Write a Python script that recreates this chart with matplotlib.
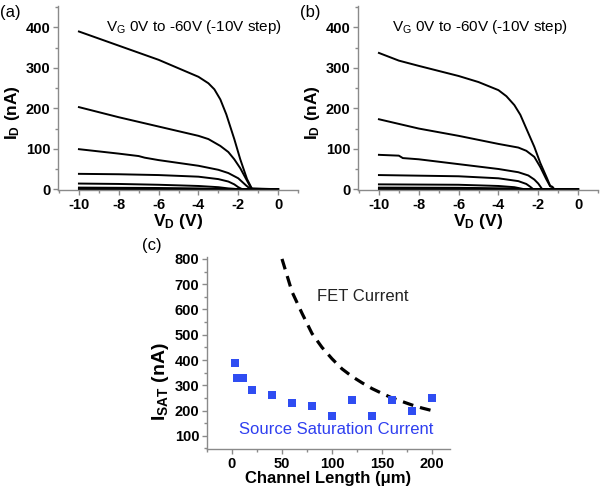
import matplotlib
matplotlib.use("Agg")
import matplotlib.pyplot as plt
from matplotlib.ticker import MultipleLocator

plt.rcParams['font.family'] = ['Liberation Sans', 'DejaVu Sans']
plt.rcParams['mathtext.default'] = 'regular'
plt.rcParams['axes.unicode_minus'] = False

# (a) output curves, VG = -60V ... 0V (top to bottom)
vd_a = [
    [-10, -8, -6, -4, -3.5, -3.2, -2.9, -2.6, -2.2, -1.9, -1.56, -1.3, 0],
    [-10, -8, -6, -4, -3.5, -2.9, -2.5, -2.2, -1.9, -1.56, -1.35, 0],
    [-10, -8, -7, -6.7, -6, -4, -3, -2.5, -2, -1.6, -1.4, 0],
    [-10, -8, -6, -4, -3, -2.5, -2.2, -2, -1.8, 0],
    [-10, -8, -6, -4, -3, -2.5, -2.2, -2, 0],
    [-10, -6, -4, -3, -2.5, 0],
    [-10, -6, -2, 0],
]
id_a = [
    [390, 355, 320, 278, 262, 247, 222, 185, 124, 74, 25, 0, 0],
    [203, 178, 155, 132, 124, 107, 92, 74, 52, 21, 2, 0],
    [99, 88, 82, 78, 72, 58, 48, 40, 27, 9, 1, 0],
    [38, 37, 35, 31, 25, 19, 12, 5, 0, 0],
    [14, 13, 11, 8, 5, 2, 1, 0, 0],
    [4, 3, 2, 0.6, 0, 0],
    [0.5, 0.4, 0.1, 0],
]

# (b) output curves
vd_b = [
    [-10, -9, -8, -6, -5, -4, -3.6, -3.2, -2.9, -2.6, -2.2, -1.9, -1.56, -1.4, -1.3, -1.2, 0],
    [-10, -8, -6, -4, -3, -2.6, -2.2, -1.9, -1.6, -1.4, -1.3, -1.2, 0],
    [-10, -9, -8.8, -8, -6, -4, -3, -2.5, -2.2, -2, -1.8, 0],
    [-10, -6, -4, -3, -2.6, -2.4, -2.25, 0],
    [-10, -6, -4, -3.2, -2.9, -2.7, 0],
    [-10, -6, -3.5, -3, -2.9, 0],
    [-10, -6, -3, 0],
]
id_b = [
    [337, 318, 305, 280, 265, 245, 230, 208, 184, 150, 105, 65, 27, 8, 6, 0, 0],
    [173, 150, 132, 112, 103, 95, 80, 55, 25, 7, 6, 0, 0],
    [85, 83, 77, 74, 62, 50, 42, 34, 24, 14, 0, 0],
    [35, 32, 27, 20, 13, 6, 0, 0],
    [12, 11, 8, 5, 2, 0, 0],
    [4, 3.5, 2, 1, 0, 0],
    [0.5, 0.4, 0.1, 0],
]

# (c) saturation current vs channel length
length_src = [3, 5, 8, 11, 20, 40, 60, 80, 100, 120, 140, 160, 180, 200]
isat_src = [390, 330, 330, 330, 280, 260, 230, 220, 180, 240, 180, 240, 200, 250]
length_fet = [50, 60, 70, 80, 90, 100, 110, 120, 130, 140, 150, 160, 170, 180, 190, 200]
isat_fet = [800, 670, 585, 505, 450, 405, 365, 335, 310, 287, 268, 250, 236, 222, 210, 200]

fig = plt.figure(figsize=(6, 4.9), dpi=100)

spine_col = '#8a8a8a'


def style_axes(ax):
    for s in ['top', 'right']:
        ax.spines[s].set_visible(False)
    for s in ['left', 'bottom']:
        ax.spines[s].set_color(spine_col)
        ax.spines[s].set_linewidth(1.0)
    ax.tick_params(which='major', direction='out', length=3.5, width=1, color=spine_col,
                   labelsize=10.5, pad=2)
    ax.tick_params(which='minor', direction='out', length=2, width=1, color=spine_col)
    for lab in ax.get_xticklabels() + ax.get_yticklabels():
        lab.set_fontweight('bold')


def iv_panel(rect, vds, ids, text_x):
    ax = fig.add_axes(rect)
    for v, i in zip(vds, ids):
        ax.plot(v, i, color='black', lw=1.4)
    ax.set_xlim(-11.05, 1.0)
    ax.set_ylim(-2, 453)
    ax.set_xticks([-10, -8, -6, -4, -2, 0])
    ax.set_yticks([0, 100, 200, 300, 400])
    ax.xaxis.set_minor_locator(MultipleLocator(1))
    ax.yaxis.set_minor_locator(MultipleLocator(50))
    style_axes(ax)
    ax.set_xlabel('$V_D$ (V)', fontsize=12.5, fontweight='bold', labelpad=0)
    ax.set_ylabel('$I_D$ (nA)', fontsize=12.5, fontweight='bold')
    ax.yaxis.set_label_coords(-0.15, 0.42)
    ax.text(text_x, 400, '$V_G$ 0V to -60V (-10V step)', fontsize=11, va='center')
    return ax


ax1 = iv_panel([0.0967, 0.6122, 0.40, 0.3755], vd_a, id_a, -8.64)
ax2 = iv_panel([0.5967, 0.6122, 0.40, 0.3755], vd_b, id_b, -9.34)

fig.text(0.0, 0.99, '(a)', fontsize=12, va='top', ha='left')
fig.text(0.5, 0.99, '(b)', fontsize=12, va='top', ha='left')

ax3 = fig.add_axes([0.345, 0.0837, 0.405, 0.392])
ax3.plot(length_fet, isat_fet, color='black', lw=2.3, ls=(0, (3.4, 2.2)))
ax3.scatter(length_src, isat_src, marker='s', s=26, color='#2f4df2', linewidths=0, zorder=3)
ax3.set_xlim(-25, 218)
ax3.set_ylim(48, 808)
ax3.set_xticks([0, 50, 100, 150, 200])
ax3.set_yticks([100, 200, 300, 400, 500, 600, 700, 800])
ax3.xaxis.set_minor_locator(MultipleLocator(25))
ax3.yaxis.set_minor_locator(MultipleLocator(50))
style_axes(ax3)
ax3.set_xlabel('Channel Length (\u03bcm)', fontsize=12, fontweight='bold', labelpad=0)
ax3.set_ylabel('$I_{SAT}$ (nA)', fontsize=14, fontweight='bold')
ax3.yaxis.set_label_coords(-0.15, 0.35)
ax3.text(85, 652, 'FET Current', fontsize=12, va='center', color='#222222')
ax3.text(7, 126, 'Source Saturation Current', fontsize=12, va='center', color='#2f3ff0')
fig.text(0.237, 0.498, '(c)', fontsize=12, va='center', ha='left')

fig.savefig('out.png', dpi=100)
